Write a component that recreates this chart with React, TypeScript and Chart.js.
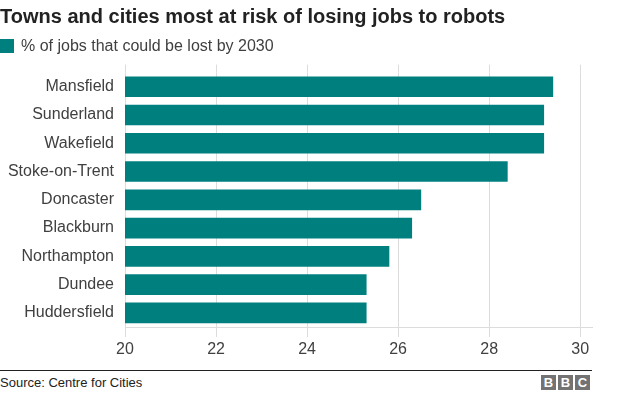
import React, { useEffect, useRef } from "react";
import { Chart, registerables } from "chart.js";

Chart.register(...registerables);

const towns = [
  "Mansfield",
  "Sunderland",
  "Wakefield",
  "Stoke-on-Trent",
  "Doncaster",
  "Blackburn",
  "Northampton",
  "Dundee",
  "Huddersfield",
];
const jobsLostPct = [29.4, 29.2, 29.2, 28.4, 26.5, 26.3, 25.8, 25.3, 25.3];
const xTickValues = [20, 22, 24, 26, 28, 30];
const seriesLabel = "% of jobs that could be lost by 2030";
const titleText = "Towns and cities most at risk of losing jobs to robots";
const sourceText = "Source: Centre for Cities";

const BAR = "#007f7f";
const GRID = "#dcdcdc";
const TEXT = "#404040";
const FONT = "'Liberation Sans', Arial, Helvetica, sans-serif";

const gridExtend = {
  id: "gridExtend",
  beforeDatasetsDraw(chart: any) {
    const { ctx, chartArea, scales } = chart;
    const x = scales.x;
    ctx.save();
    ctx.strokeStyle = GRID;
    ctx.lineWidth = 1;
    x.ticks.forEach((t: any) => {
      const px = Math.round(x.getPixelForValue(t.value)) + 0.5;
      ctx.beginPath();
      ctx.moveTo(px, chartArea.top - 8);
      ctx.lineTo(px, chartArea.top);
      ctx.stroke();
    });
    ctx.restore();
  },
};

export default function App() {
  const ref = useRef<HTMLCanvasElement>(null);

  useEffect(() => {
    if (!ref.current) return;
    const chart = new Chart(ref.current, {
      type: "bar",
      data: {
        labels: towns,
        datasets: [
          {
            label: seriesLabel,
            data: jobsLostPct,
            backgroundColor: BAR,
            borderWidth: 0,
            barThickness: 20,
          },
        ],
      },
      plugins: [gridExtend],
      options: {
        indexAxis: "y",
        responsive: false,
        animation: false,
        devicePixelRatio: 1,
        layout: { padding: { top: 72.6, right: 32, left: 0, bottom: 0 } },
        plugins: {
          legend: { display: false },
          title: { display: false },
          tooltip: { enabled: false },
        },
        scales: {
          x: {
            type: "linear",
            min: 20,
            max: 30.26,
            afterBuildTicks: (scale: any) => {
              scale.ticks = xTickValues.map((v) => ({ value: v }));
            },
            afterFit: (scale: any) => {
              scale.height = 38;
            },
            grid: {
              color: GRID,
              lineWidth: 1,
              drawTicks: true,
              tickLength: 10,
              tickColor: GRID,
            },
            border: { display: true, color: GRID, width: 1 },
            ticks: {
              color: TEXT,
              font: { family: FONT, size: 16 },
              padding: 3,
              maxRotation: 0,
              autoSkip: false,
            },
          },
          y: {
            type: "category",
            offset: true,
            afterFit: (scale: any) => {
              scale.width = 125;
            },
            grid: { display: false, drawTicks: false },
            border: { display: false },
            ticks: {
              color: TEXT,
              font: { family: FONT, size: 16 },
              padding: 11,
              autoSkip: false,
            },
          },
        },
      },
    } as any);
    return () => chart.destroy();
  }, []);

  const boxStyle: React.CSSProperties = {
    position: "absolute",
    top: 375,
    width: 15,
    height: 15,
    background: "#737373",
    color: "#ffffff",
    fontFamily: FONT,
    fontWeight: "bold",
    fontSize: 13,
    lineHeight: "15px",
    textAlign: "center",
  };

  return (
    <div
      style={{
        position: "absolute",
        left: 0,
        top: 0,
        width: 624,
        height: 395,
        background: "#ffffff",
        overflow: "hidden",
        fontFamily: FONT,
      }}
    >
      <canvas
        ref={ref}
        width={624}
        height={365}
        style={{ position: "absolute", left: 0, top: 0, width: 624, height: 365 }}
      />
      <div
        style={{
          position: "absolute",
          left: 0,
          top: 4,
          fontSize: 20,
          lineHeight: "24px",
          fontWeight: "bold",
          color: "#222222",
          whiteSpace: "nowrap",
        }}
      >
        {titleText}
      </div>
      <div
        style={{
          position: "absolute",
          left: 0,
          top: 39,
          width: 14,
          height: 14,
          background: BAR,
        }}
      />
      <div
        style={{
          position: "absolute",
          left: 21,
          top: 37,
          fontSize: 16,
          lineHeight: "18px",
          color: TEXT,
          whiteSpace: "nowrap",
        }}
      >
        {seriesLabel}
      </div>
      <div
        style={{
          position: "absolute",
          left: 0,
          top: 370,
          width: 592,
          height: 1,
          background: "#222222",
        }}
      />
      <div
        style={{
          position: "absolute",
          left: 0,
          top: 375,
          fontSize: 13,
          lineHeight: "16px",
          color: "#222222",
          whiteSpace: "nowrap",
        }}
      >
        {sourceText}
      </div>
      <div style={{ ...boxStyle, left: 541 }}>B</div>
      <div style={{ ...boxStyle, left: 558 }}>B</div>
      <div style={{ ...boxStyle, left: 575 }}>C</div>
    </div>
  );
}
